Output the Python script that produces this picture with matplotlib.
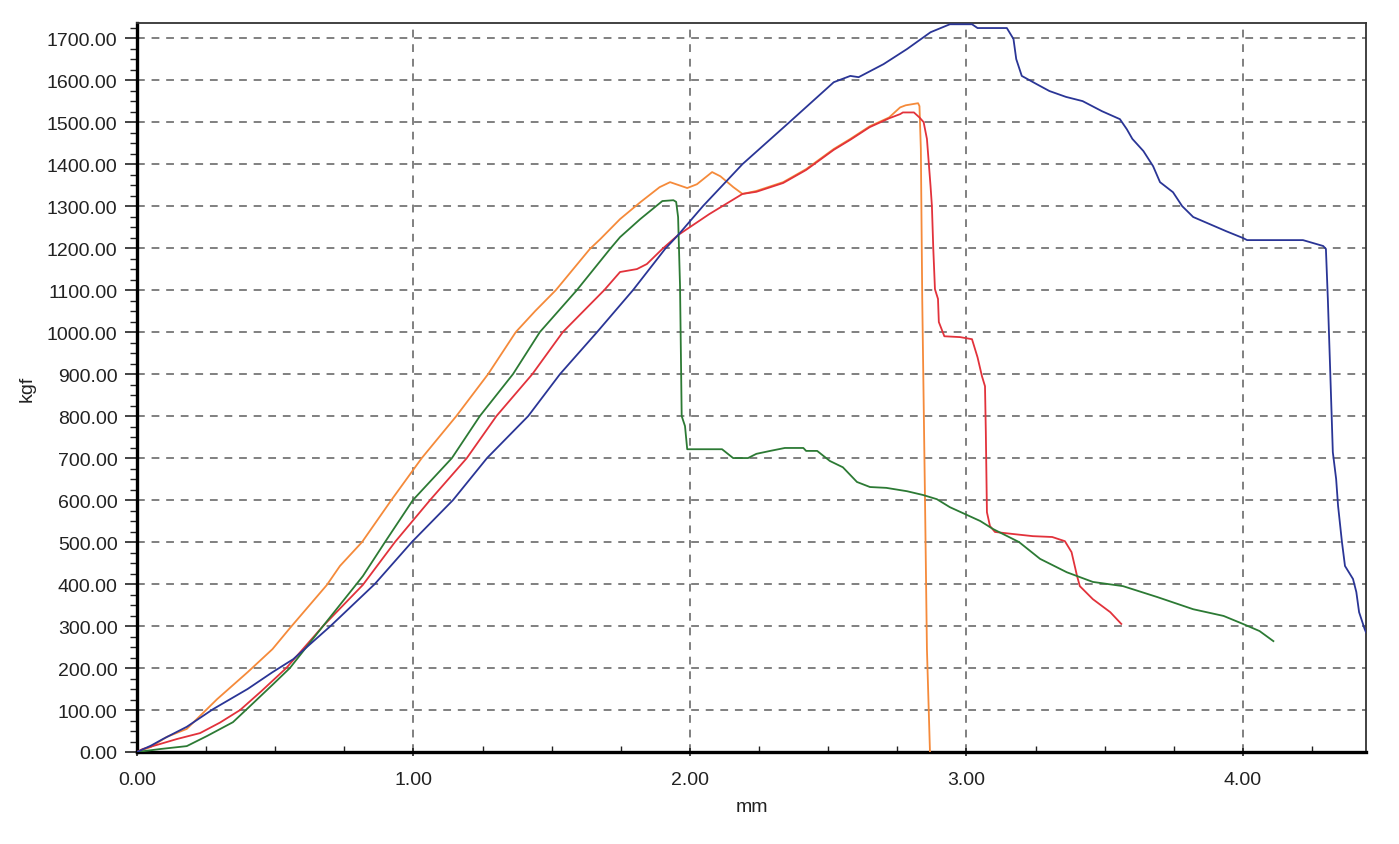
import numpy as np
import matplotlib
matplotlib.use('Agg')
import matplotlib.pyplot as plt
from matplotlib.ticker import MultipleLocator, FormatStrFormatter

plt.rcParams['font.family'] = ['Liberation Sans', 'DejaVu Sans']

# load vs displacement curves (mm, kgf)
blue_x = [0, 0.05, 0.094, 0.18, 0.275, 0.40, 0.49, 0.565, 0.70, 0.86, 0.994, 1.143, 1.266,
          1.415, 1.53, 1.664, 1.794, 1.91, 1.957, 2.047, 2.19, 2.36, 2.52, 2.58, 2.61, 2.70,
          2.785, 2.87, 2.94, 3.02, 3.04, 3.146, 3.17, 3.18, 3.20, 3.255, 3.30, 3.36, 3.42,
          3.49, 3.555, 3.58, 3.60, 3.64, 3.675, 3.70, 3.747, 3.78, 3.82, 3.88, 3.94, 4.00,
          4.015, 4.217, 4.29, 4.30, 4.307, 4.315, 4.325, 4.337, 4.344, 4.358, 4.369, 4.398,
          4.41, 4.42, 4.44, 4.445]
blue_y = [0, 15, 31, 60, 102, 150, 190, 221, 300, 400, 500, 600, 700,
          800, 900, 1000, 1100, 1198, 1231, 1300, 1400, 1500, 1595, 1610, 1607, 1638,
          1674, 1714, 1733, 1733, 1724, 1724, 1698, 1650, 1610, 1590, 1574, 1560, 1550,
          1526, 1507, 1483, 1460, 1431, 1395, 1357, 1333, 1300, 1274, 1257, 1240, 1224,
          1219, 1219, 1205, 1198, 1079, 919, 714, 650, 586, 500, 443, 412,
          381, 333, 293, 285]

orange_x = [0, 0.05, 0.108, 0.18, 0.29, 0.40, 0.49, 0.553, 0.687, 0.734, 0.814, 0.92,
            1.03, 1.155, 1.27, 1.37, 1.44, 1.515, 1.638, 1.675, 1.747, 1.82, 1.89, 1.928,
            1.99, 2.025, 2.08, 2.11, 2.157, 2.19, 2.24, 2.337, 2.42, 2.52, 2.58, 2.65, 2.72,
            2.76, 2.78, 2.825, 2.83, 2.835, 2.84, 2.85, 2.857, 2.868]
orange_y = [0, 12, 36, 55, 126, 190, 245, 295, 398, 443, 500, 600,
            700, 800, 900, 1000, 1050, 1100, 1198, 1221, 1269, 1309, 1345, 1357,
            1343, 1352, 1381, 1371, 1345, 1329, 1336, 1357, 1388, 1436, 1460, 1490, 1511,
            1535, 1540, 1545, 1538, 1436, 1079, 602, 245, 0]

red_x = [0, 0.02, 0.083, 0.145, 0.228, 0.30, 0.373, 0.45, 0.54, 0.673, 0.817, 0.933,
         1.06, 1.193, 1.30, 1.43, 1.54, 1.69, 1.747, 1.808, 1.844, 1.90, 1.957, 2.07,
         2.19, 2.24, 2.337, 2.42, 2.52, 2.58, 2.65, 2.72, 2.76, 2.77, 2.81, 2.83, 2.845,
         2.857, 2.87, 2.875, 2.88, 2.886, 2.897, 2.90, 2.92, 2.977, 3.02, 3.04, 3.056,
         3.067, 3.07, 3.074, 3.085, 3.103, 3.17, 3.24, 3.31, 3.356, 3.38, 3.40, 3.41,
         3.457, 3.52, 3.56]
red_y = [0, 7, 19, 31, 45, 70, 100, 145, 200, 300, 398, 500,
         600, 700, 800, 900, 1000, 1100, 1143, 1150, 1162, 1198, 1231, 1281,
         1329, 1334, 1355, 1386, 1434, 1458, 1488, 1509, 1519, 1523, 1523, 1511, 1500,
         1460, 1348, 1300, 1198, 1102, 1079, 1024, 990, 988, 983, 940, 895,
         871, 762, 571, 538, 524, 519, 514, 512, 502, 476, 419, 395,
         364, 333, 305]

green_x = [0, 0.083, 0.18, 0.253, 0.347, 0.41, 0.49, 0.553, 0.673, 0.817, 0.897, 0.998,
           1.139, 1.24, 1.36, 1.457, 1.591, 1.711, 1.747, 1.82, 1.90, 1.94, 1.95, 1.957,
           1.964, 1.97, 1.982, 1.99, 2.116, 2.156, 2.21, 2.24, 2.29, 2.343, 2.41, 2.42,
           2.46, 2.506, 2.553, 2.604, 2.651, 2.71, 2.785, 2.843, 2.893, 2.94, 3.05, 3.096,
           3.19, 3.266, 3.363, 3.457, 3.566, 3.69, 3.82, 3.93, 4.0, 4.06, 4.11]
green_y = [0, 7, 14, 38, 71, 110, 160, 200, 300, 419, 500, 600,
           700, 800, 900, 1000, 1100, 1198, 1226, 1269, 1312, 1314, 1310, 1274,
           1110, 800, 776, 721, 721, 700, 700, 710, 717, 724, 724, 717,
           717, 693, 678, 643, 631, 629, 621, 612, 602, 583, 550, 531,
           500, 460, 428, 405, 395, 369, 340, 324, 305, 288, 264]

x_max = 4.445
y_max = 1736

fig = plt.figure(figsize=(13.99, 8.45), dpi=100)
ax = fig.add_axes([137 / 1399, 92 / 845, 1229 / 1399, 729 / 845])

lw = 1.3
ax.plot(orange_x, orange_y, color='#f58a3a', lw=lw, zorder=3)
ax.plot(red_x, red_y, color='#e2323b', lw=lw, zorder=3)
ax.plot(green_x, green_y, color='#2c7a34', lw=lw, zorder=3)
ax.plot(blue_x, blue_y, color='#2a3596', lw=lw, zorder=4)

ax.set_xlim(0, x_max)
ax.set_ylim(0, y_max)

ax.xaxis.set_major_locator(MultipleLocator(1.0))
ax.xaxis.set_minor_locator(MultipleLocator(0.25))
ax.yaxis.set_major_locator(MultipleLocator(100))
ax.yaxis.set_minor_locator(MultipleLocator(25))
ax.xaxis.set_major_formatter(FormatStrFormatter('%.2f'))
ax.yaxis.set_major_formatter(FormatStrFormatter('%.2f'))

ax.grid(True, which='major', color='#808080', lw=1.4, linestyle=(0, (4, 3.5)))
ax.set_axisbelow(True)

ax.tick_params(axis='y', which='major', direction='out', length=9, width=1.2,
               pad=5, labelsize=14, colors='#222222')
ax.tick_params(axis='y', which='minor', direction='out', length=5, width=1.0, color='#222222')
ax.tick_params(axis='x', which='major', direction='inout', length=6, width=1.2,
               pad=11, labelsize=14, colors='#222222')
ax.tick_params(axis='x', which='minor', direction='in', length=4, width=1.0, color='#222222')

for s in ['left', 'bottom']:
    ax.spines[s].set_linewidth(2.4)
for s in ['top', 'right']:
    ax.spines[s].set_linewidth(1.3)
    ax.spines[s].set_color('#333333')

ax.set_xlabel('mm', fontsize=14, labelpad=7, color='#222222')
ax.set_ylabel('kgf', fontsize=14, labelpad=8, color='#222222')

fig.savefig('out.png', dpi=100)
